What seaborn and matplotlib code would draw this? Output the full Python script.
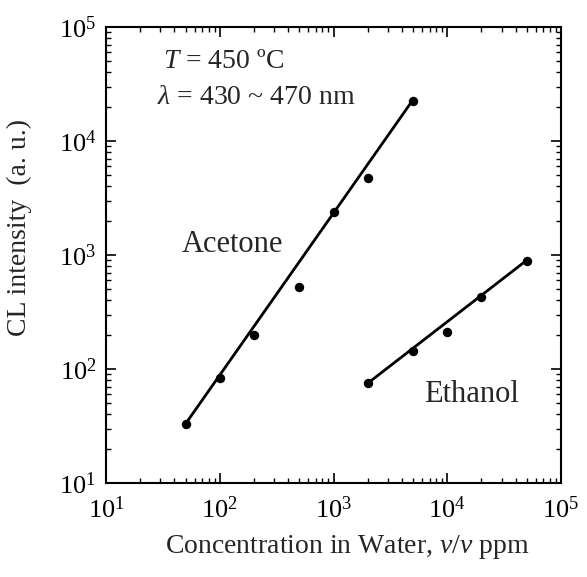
import numpy as np
import pandas as pd
import matplotlib
matplotlib.use("Agg")
import matplotlib.pyplot as plt
import seaborn as sns
from matplotlib.ticker import LogLocator, NullFormatter

# Data
acetone_x = [50, 100, 200, 500, 1000, 2000, 5000]
acetone_y = [33, 83, 197, 525, 2400, 4750, 22500]
ethanol_x = [2000, 5000, 10000, 20000, 50000]
ethanol_y = [75, 144, 212, 428, 890]
# fitted straight lines (end points)
acetone_fit_x = [50, 5000]
acetone_fit_y = [33, 23000]
ethanol_fit_x = [2000, 50000]
ethanol_fit_y = [75, 900]

sns.set_theme(style="ticks")
plt.rcParams['font.family'] = ['Liberation Serif', 'DejaVu Serif']
plt.rcParams['mathtext.fontset'] = 'custom'
plt.rcParams['mathtext.rm'] = 'Liberation Serif'
plt.rcParams['mathtext.it'] = 'Liberation Serif:italic'
plt.rcParams['mathtext.bf'] = 'Liberation Serif:bold'

fig = plt.figure(figsize=(5.87, 5.77), dpi=100)
ax = fig.add_axes([0.1806, 0.1629, 0.9557 - 0.1806, 0.9532 - 0.1629])

pts = pd.DataFrame({
    "x": acetone_x + ethanol_x,
    "y": acetone_y + ethanol_y,
    "s": ["Acetone"] * len(acetone_x) + ["Ethanol"] * len(ethanol_x),
})
fits = pd.DataFrame({
    "x": acetone_fit_x + ethanol_fit_x,
    "y": acetone_fit_y + ethanol_fit_y,
    "s": ["Acetone"] * 2 + ["Ethanol"] * 2,
})

sns.lineplot(data=fits, x="x", y="y", units="s", estimator=None, color="black",
             lw=2.0, ax=ax, legend=False)
sns.scatterplot(data=pts, x="x", y="y", color="black", s=46, edgecolor="black",
                linewidth=0, ax=ax, legend=False, zorder=3)

ax.set_xscale("log")
ax.set_yscale("log")
ax.set_xlim(10, 1e5)
ax.set_ylim(10, 1e5)
ax.xaxis.set_major_locator(LogLocator(base=10, numticks=10))
ax.yaxis.set_major_locator(LogLocator(base=10, numticks=10))
ax.xaxis.set_minor_locator(LogLocator(base=10, subs=np.arange(2, 10), numticks=20))
ax.yaxis.set_minor_locator(LogLocator(base=10, subs=np.arange(2, 10), numticks=20))
ax.xaxis.set_minor_formatter(NullFormatter())
ax.yaxis.set_minor_formatter(NullFormatter())

ax.tick_params(which="both", direction="in", top=True, right=True, colors="black")
ax.tick_params(which="major", length=7, width=1.2, labelsize=19)
ax.tick_params(axis="x", which="major", pad=10)
ax.tick_params(axis="y", which="major", pad=7)
ax.tick_params(which="minor", length=3.5, width=1.0)
for sp in ax.spines.values():
    sp.set_linewidth(1.5)
    sp.set_color("black")

ax.set_xlabel("Concentration in Water, $v$/$v$ ppm", fontsize=20)
ax.xaxis.set_label_coords(0.53, -0.11)
ax.set_ylabel("CL intensity  (a. u.)", fontsize=20)
ax.yaxis.set_label_coords(-0.162, 0.561)

ax.text(0.125, 0.925, "$T$ = 450 ºC", transform=ax.transAxes, fontsize=20,
        va="center", ha="left")
ax.text(0.113, 0.845, "$\\lambda$ = 430 ~ 470 nm", transform=ax.transAxes, fontsize=20,
        va="center", ha="left")
ax.text(0.167, 0.522, "Acetone", transform=ax.transAxes, fontsize=22, va="center", ha="left")
ax.text(0.70, 0.193, "Ethanol", transform=ax.transAxes, fontsize=22, va="center", ha="left")

fig.savefig("out.png", dpi=100)
